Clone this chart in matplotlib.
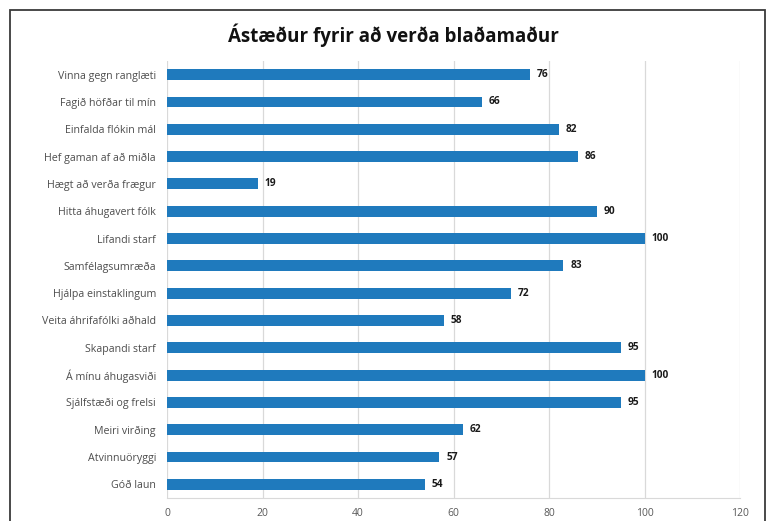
import matplotlib
matplotlib.use("Agg")
import matplotlib.pyplot as plt
from matplotlib.patches import Rectangle

categories = [
    "Vinna gegn ranglæti",
    "Fagið höfðar til mín",
    "Einfalda flókin mál",
    "Hef gaman af að miðla",
    "Hægt að verða frægur",
    "Hitta áhugavert fólk",
    "Lifandi starf",
    "Samfélagsumræða",
    "Hjálpa einstaklingum",
    "Veita áhrifafólki aðhald",
    "Skapandi starf",
    "Á mínu áhugasviði",
    "Sjálfstæði og frelsi",
    "Meiri virðing",
    "Atvinnuöryggi",
    "Góð laun",
]
values = [76, 66, 82, 86, 19, 90, 100, 83, 72, 58, 95, 100, 95, 62, 57, 54]
xticks = [0, 20, 40, 60, 80, 100, 120]
title = "Ástæður fyrir að verða blaðamaður"

W, H = 771, 521
fig = plt.figure(figsize=(W / 100, H / 100), dpi=100)
fig.patch.set_facecolor("white")

# outer frame
fig.patches.append(Rectangle((10 / W, -0.05), (765 - 10) / W, 1 - 10 / H + 0.05,
                             transform=fig.transFigure, fill=False,
                             edgecolor="#3a3a3a", linewidth=1.3, clip_on=False))

ax = fig.add_axes([167 / W, 1 - 498 / H, (740 - 167) / W, (498 - 61) / H])
ypos = list(range(len(categories)))
ax.barh(ypos, values, height=0.4, color="#1f7abd", zorder=3)
ax.set_ylim(len(categories) - 0.5, -0.5)
ax.set_xlim(0, 120)
ax.set_xticks(xticks)
ax.set_xticklabels([str(t) for t in xticks], fontsize=7.5, color="#595959", family="Open Sans")
ax.set_yticks(ypos)
ax.set_yticklabels(categories, fontsize=7.7, color="#4d4d4d", family="Open Sans")
ax.tick_params(axis="y", length=0, pad=8)
ax.tick_params(axis="x", length=0, pad=7)
ax.grid(axis="x", color="#d9d9d9", linewidth=0.9, zorder=0)
for s in ["top", "right", "left"]:
    ax.spines[s].set_visible(False)
ax.spines["bottom"].set_color("#d9d9d9")

for y, v in zip(ypos, values):
    ax.annotate(str(v), (v, y), xytext=(5, 0), textcoords="offset points",
                ha="left", va="center", fontsize=7.3, fontweight="bold",
                color="#1a1a1a", family="Open Sans", zorder=4)

fig.text(393 / W, 1 - 35 / H, title, ha="center", va="center",
         fontsize=13.5, fontweight="bold", family="Open Sans", color="#111111")

fig.savefig("out.png", dpi=100, facecolor="white")
